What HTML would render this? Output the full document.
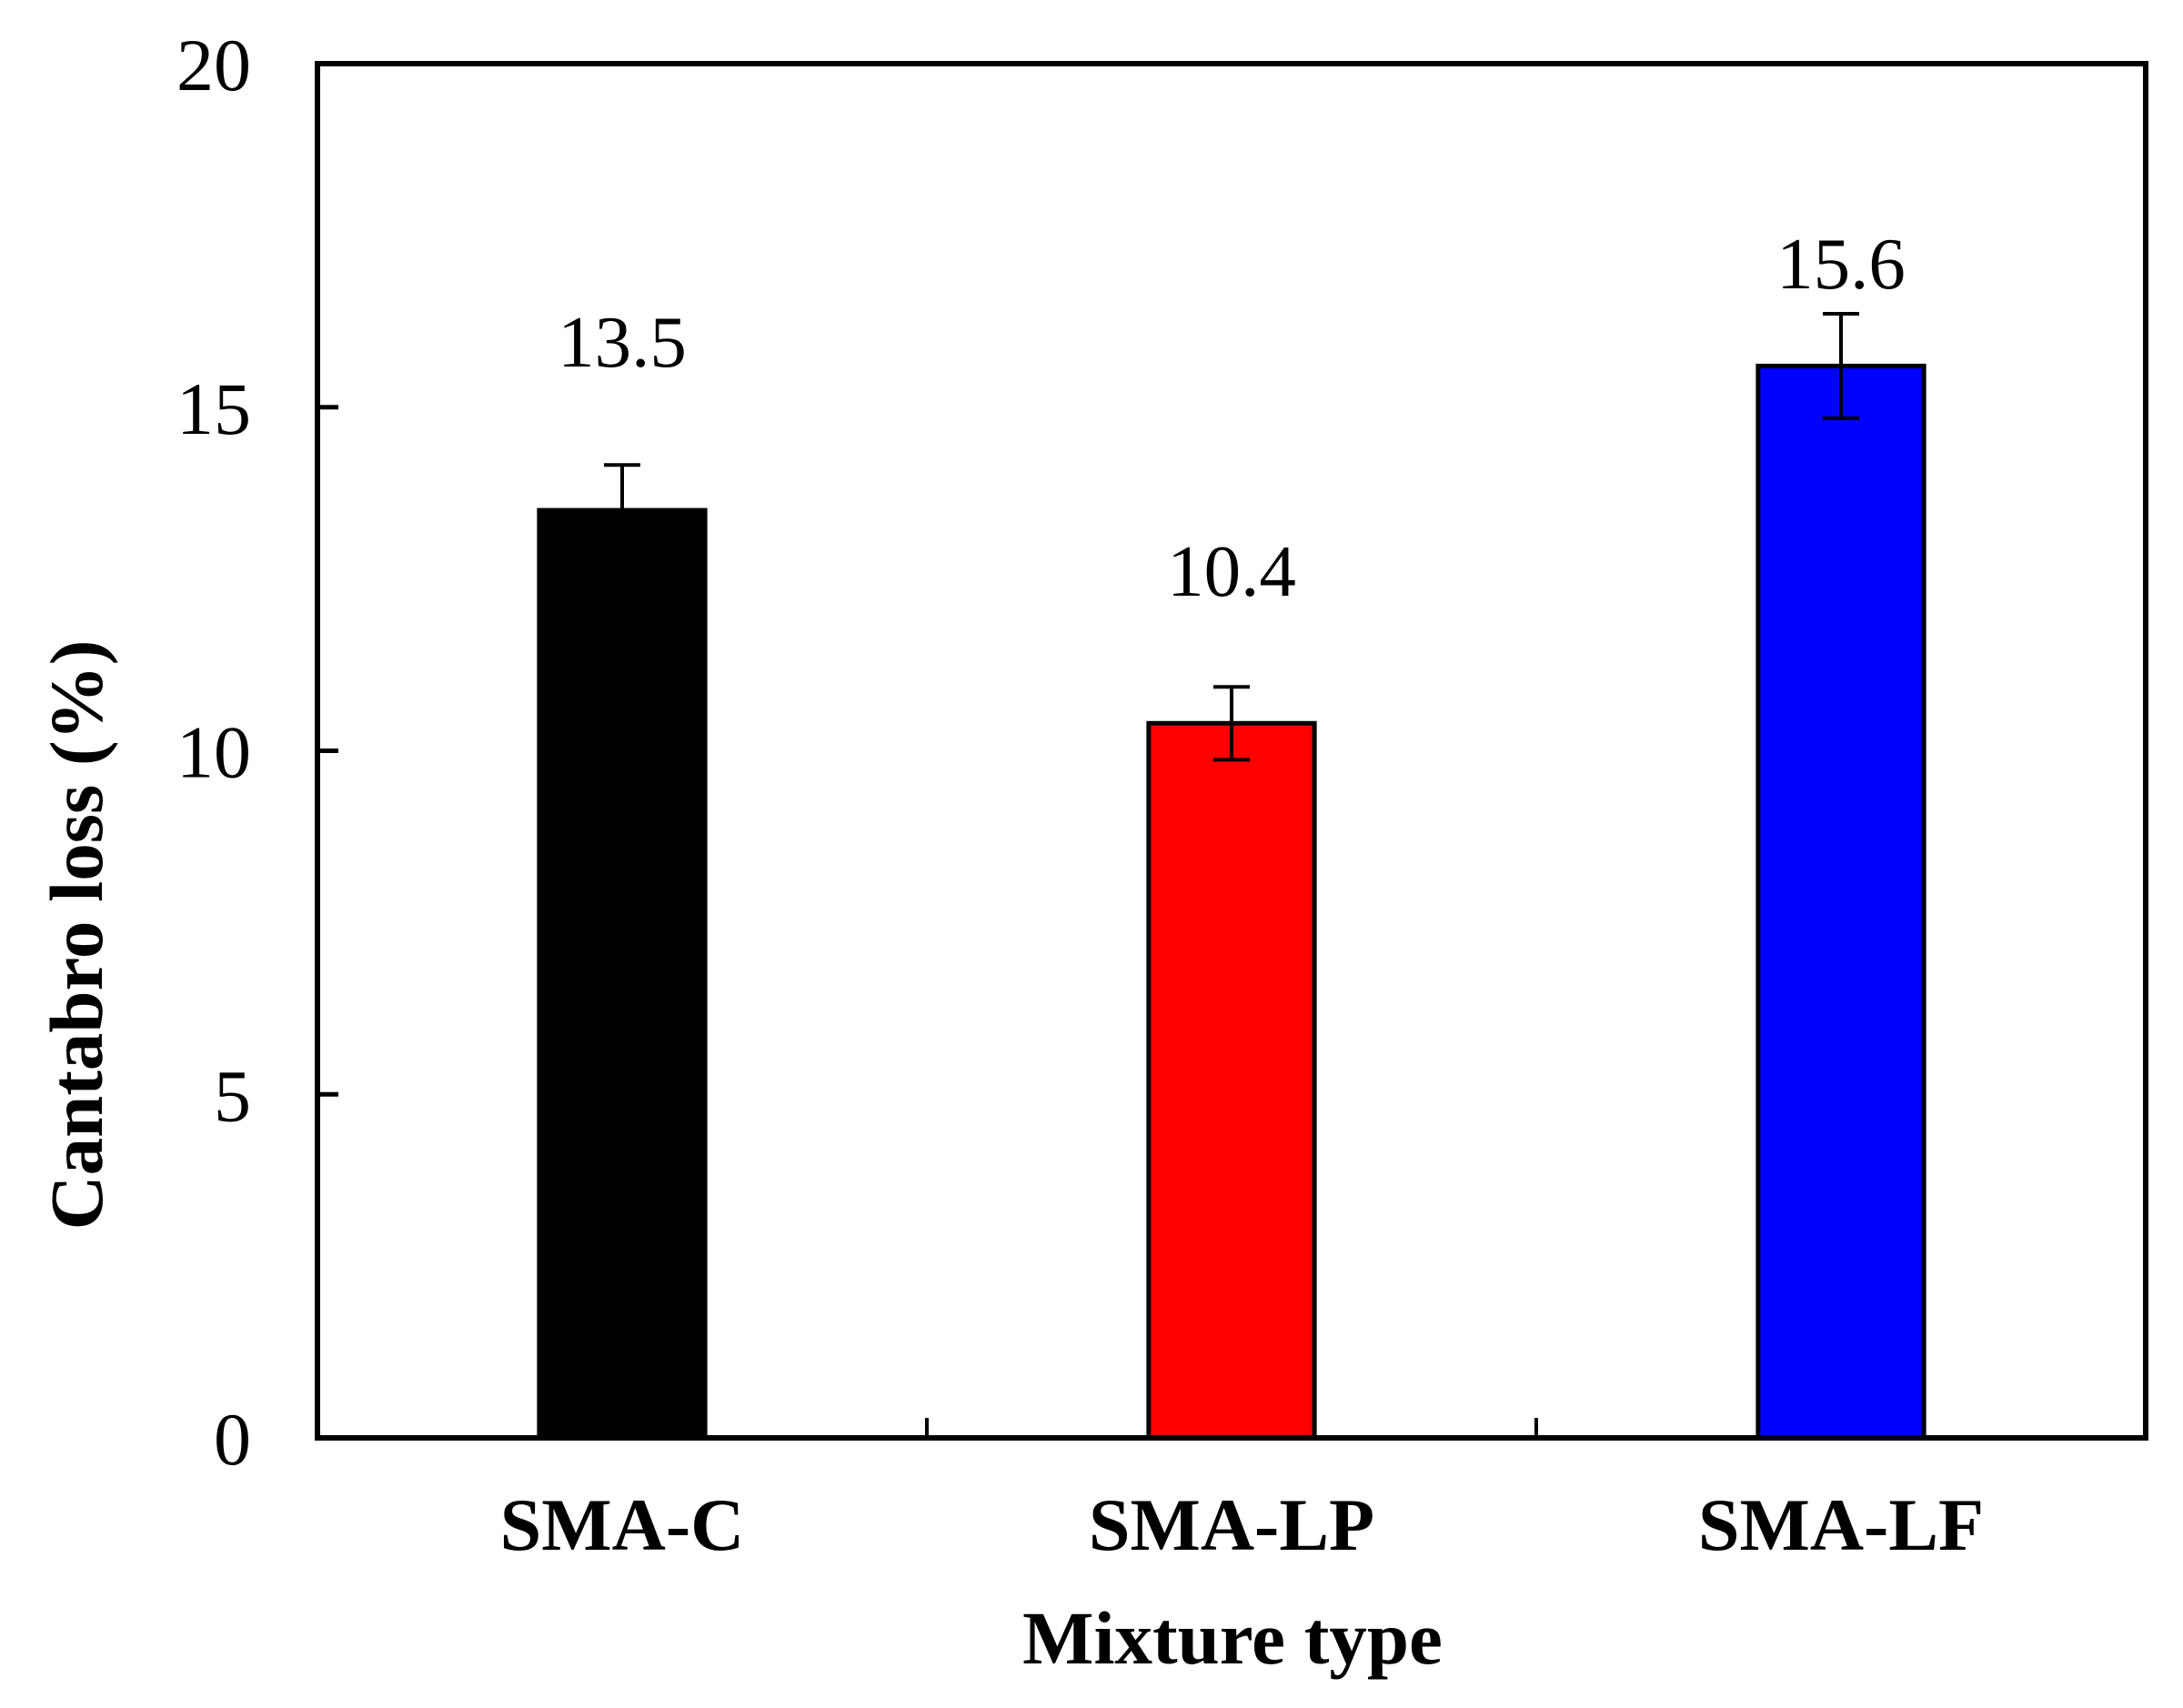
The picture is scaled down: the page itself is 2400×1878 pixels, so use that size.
<!DOCTYPE html>
<html><head><meta charset="utf-8"><style>
html,body{margin:0;padding:0;background:#fff;}
svg{display:block;}
text{font-family:"Liberation Serif",serif;fill:#000;}
</style></head><body>
<svg id="chart" width="2400" height="1878" viewBox="0 0 2400 1878" xmlns="http://www.w3.org/2000/svg"></svg>
<script>
const categories = ["SMA-C", "SMA-LP", "SMA-LF"];
const values = [13.5, 10.4, 15.6];
const errors = [0.66, 0.53, 0.76];
const colors = ["#000000", "#ff0000", "#0000ff"];
const valueLabels = ["13.5", "10.4", "15.6"];
const labelOffsets = [2.09, 1.86, 1.13];
const yTicks = [0, 5, 10, 15, 20];

const L = 349, R = 2359, T = 70, B = 1581;
const yMax = 20;
const svg = document.getElementById('chart');
const NS = 'http://www.w3.org/2000/svg';
function y(v){ return B - (v / yMax) * (B - T); }
const catW = (R - L) / categories.length;
function xc(i){ return L + catW * (i + 0.5); }
const barW = catW * 0.272;
function mk(tag, attrs){ const e = document.createElementNS(NS, tag); for (const k in attrs) e.setAttribute(k, attrs[k]); svg.appendChild(e); return e; }

categories.forEach((c, i) => {
  const bar = mk('rect', {x: xc(i) - barW/2, y: y(values[i]), width: barW, height: B - y(values[i]), fill: colors[i], stroke: '#000', 'stroke-width': 5});
  
  
  const top = y(values[i] + errors[i]), bot = y(values[i] - errors[i]);
  const eb = mk('path', {d: `M${xc(i)},${top}V${bot}M${xc(i)-20},${top}H${xc(i)+20}M${xc(i)-20},${bot}H${xc(i)+20}`, stroke: '#000', 'stroke-width': 4, fill: 'none'});
  
  
  const vl = mk('text', {x: xc(i), y: y(values[i] + labelOffsets[i]), 'text-anchor': 'middle', 'font-size': 81});
  vl.textContent = valueLabels[i];
  
  
  const cl = mk('text', {x: xc(i), y: 1704, 'text-anchor': 'middle', 'font-size': 82, 'font-weight': 'bold'});
  cl.textContent = c;
  
  
  if (i > 0) {
    const xt = mk('line', {x1: L + catW*i, x2: L + catW*i, y1: B, y2: B - 22, stroke: '#000', 'stroke-width': 4});
    
    
  }
});

yTicks.forEach(t => {
  const tk = mk('line', {x1: L, x2: L + 23, y1: y(t), y2: y(t), stroke: '#000', 'stroke-width': 5});
  
  
  const tl = mk('text', {x: 276, y: y(t) + 29, 'text-anchor': 'end', 'font-size': 82});
  tl.textContent = t;
  
  
});

const frame = mk('rect', {x: L, y: T, width: R - L, height: B - T, fill: 'none', stroke: '#000', 'stroke-width': 6});



const xt = mk('text', {x: 1355, y: 1829, 'text-anchor': 'middle', 'font-size': 83, 'font-weight': 'bold'});
xt.textContent = 'Mixture type';



const yt = mk('text', {x: 0, y: 0, 'text-anchor': 'middle', 'font-size': 83, 'font-weight': 'bold', transform: 'translate(112,1028) rotate(-90)'});
yt.textContent = 'Cantabro loss (%)';


</script>
</body></html>
